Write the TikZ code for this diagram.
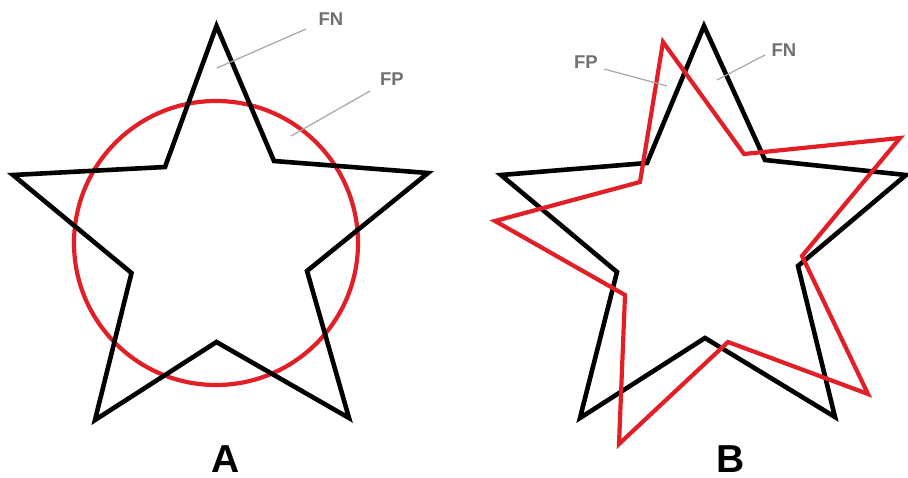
\documentclass[tikz,border=0pt]{standalone}
\usepackage{fontspec}
\setmainfont{Liberation Sans}
\definecolor{segred}{RGB}{226,30,38}
\definecolor{tagtext}{RGB}{112,112,112}
\definecolor{tagline}{RGB}{165,165,165}
\tikzset{
  truth/.style={draw=black, line width=4.6pt},
  guess/.style={draw=segred, line width=4.2pt},
  tag/.style={text=tagtext, font=\bfseries\fontsize{18.5}{18.5}\selectfont, inner sep=0pt},
  leader/.style={draw=tagline, line width=1.2pt},
  panel/.style={font=\bfseries\fontsize{39}{39}\selectfont, inner sep=0pt, anchor=base}
}
\begin{document}
\begin{tikzpicture}[x=1pt,y=-1pt]
\useasboundingbox (0,0) rectangle (908,478);

% ---- Panel A: star outline with a circle ----
\draw[guess] (216,243) circle (142);
\draw[truth] (216.5,26) -- (274,161) -- (428,173) -- (307,271) -- (349,418)
  -- (216.5,342) -- (95,420) -- (131.5,273) -- (13,175) -- (165,167) -- cycle;

\node[tag] (fnA) at (331,19) {FN};
\coordinate (fnAend) at (217,68);
\draw[leader] (306,29) -- (fnAend);
\node[tag] (fpA) at (392,79) {FP};
\coordinate (fpAend) at (291,136);
\draw[leader] (370,91) -- (fpAend);

\node[panel] (labA) at (225.5,472) {A};

% ---- Panel B: two overlapping stars ----
\draw[truth] (704,26) -- (765,160) -- (906,175) -- (798,266) -- (835,417)
  -- (705,338) -- (580,418) -- (617,272) -- (501,175) -- (647,163) -- cycle;
\draw[guess] (663,42) -- (744,154) -- (900,138) -- (802,256) -- (868,394)
  -- (728,342) -- (619,444) -- (625,295) -- (495,221) -- (640,182) -- cycle;

\node[tag] (fpB) at (586,62) {FP};
\coordinate (fpBend) at (667,86);
\draw[leader] (604,69) -- (fpBend);
\node[tag] (fnB) at (784,50) {FN};
\coordinate (fnBend) at (717,80);
\draw[leader] (765,55) -- (fnBend);

\node[panel] (labB) at (731,472) {B};
\end{tikzpicture}
\end{document}
